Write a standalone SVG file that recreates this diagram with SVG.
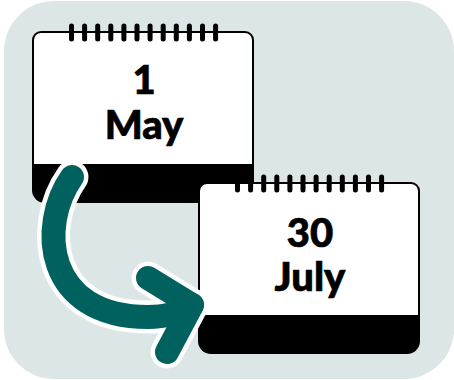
<svg xmlns="http://www.w3.org/2000/svg" width="454" height="380" viewBox="0 0 454 380">
<defs>
<style>
.t{font-family:"Lato","Noto Sans",sans-serif;font-weight:900;font-size:40px;text-anchor:middle;fill:#000;stroke:#000;stroke-width:.7}
.r{stroke:#000;stroke-width:5;stroke-linecap:round;fill:none}
</style>
<g id="card">
<path d="M-1 133V8a8 8 0 0 1 8-8H211a8 8 0 0 1 8 8V133z" fill="#fff" stroke="#000" stroke-width="2"/>
<path d="M-2 132H220V158a13 13 0 0 1-13 13H11A13 13 0 0 1-2 158z" fill="#000"/>
<path class="r" d="M37.500-6V7M50.600-6V7M63.700-6V7M76.800-6V7M89.900-6V7M103-6V7M116.100-6V7M129.200-6V7M142.300-6V7M155.400-6V7M168.500-6V7M181.600-6V7"/>
</g>
</defs>
<rect x="4" y="1" width="450" height="378" rx="50" fill="#dde6e6"/>
<g id="calendar-may"><use href="#card" x="34" y="32"/><text class="t" x="144" y="94">1</text><text class="t" x="144" y="139">May</text></g>
<g id="calendar-july"><use href="#card" x="200" y="183"/><text class="t" x="310" y="247">30</text><text class="t" x="310" y="291">July</text></g>
<g id="connectors" fill="none" stroke-linecap="round" stroke-linejoin="round">
<g stroke="#fff" stroke-width="33"><path d="M72 177C38 225 44 317 148 317C165 317 178 314 192 305"/><path d="M148 278L192 305L167 352"/></g>
<g stroke="#00615e" stroke-width="24"><path d="M72 177C38 225 44 317 148 317C165 317 178 314 192 305"/><path d="M148 278L192 305L167 352"/></g>
</g>
</svg>
